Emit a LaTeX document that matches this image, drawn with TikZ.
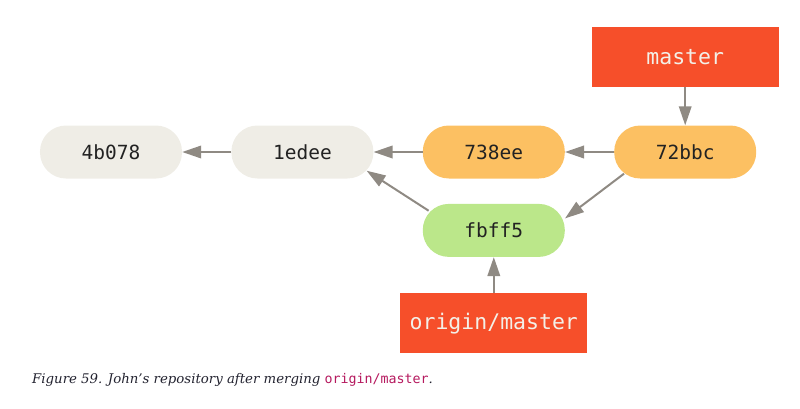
\documentclass[tikz,border=0pt]{standalone}
\usepackage{fontspec}
\setmainfont{DejaVu Serif}
\setmonofont{DejaVu Sans Mono}
\usepackage{xcolor}
\usetikzlibrary{arrows.meta,positioning}

\definecolor{oldgray}{HTML}{EFEDE6}
\definecolor{localorange}{HTML}{FCC062}
\definecolor{fetchgreen}{HTML}{BBE78A}
\definecolor{refred}{HTML}{F64F2A}
\definecolor{reftext}{HTML}{F3F0E8}
\definecolor{hashtext}{HTML}{222222}
\definecolor{linkgray}{HTML}{8F8A83}
\definecolor{captiontext}{HTML}{232330}
\definecolor{codetext}{HTML}{B5195E}

\begin{document}
\begin{tikzpicture}[
            >={Triangle[length=19pt,width=12.5pt]},
            x=1pt, y=1pt,
            node distance=49pt and 49pt,
            commit/.style={rounded corners=26pt, minimum width=142pt, minimum height=53pt,
                inner sep=0pt, text=hashtext, font=\ttfamily\fontsize{19.5}{19.5}\selectfont},
            branch/.style={fill=refred, minimum width=187pt, minimum height=60pt,
                inner sep=0pt, text=reftext, font=\ttfamily\fontsize{21.5}{21.5}\selectfont},
            link/.style={->, draw=linkgray, fill=linkgray, line width=2pt}
        ]
        \useasboundingbox (-111,-256) rectangle (689,152);
        \node[commit, fill=oldgray] (root) {4b078};
        \node[commit, fill=oldgray, right=of root] (base) {1edee};
        \node[commit, fill=localorange, right=of base] (johns) {738ee};
        \node[commit, fill=localorange, right=of johns] (merge) {72bbc};
        \node[commit, fill=fetchgreen, below=25pt of johns] (jessicas) {fbff5};
        \draw[link] (base) -- (root);
        \draw[link] (johns) -- (base);
        \draw[link] (merge) -- (johns);
        \draw[link] ([xshift=10pt,yshift=5pt]merge.south west) -- ([yshift=12pt]jessicas.east);
        \draw[link] ([xshift=6pt,yshift=-7pt]jessicas.north west) -- ([xshift=-7pt,yshift=8pt]base.south east);

        \node[branch, above=38pt of merge] (master) {master};
        \node[branch, below=36pt of jessicas] (originmaster) {origin/master};
        \draw[link] (master) -- (merge);
        \draw[link] (originmaster) -- (jessicas);

        \node[anchor=base west, inner sep=0pt, text=captiontext,
            font=\itshape\fontsize{13.3}{13.3}\selectfont] (caption) at (-79,-231)
            {Figure 59. John’s repository after merging {\upshape\ttfamily\color{codetext}origin/master}.};
    \end{tikzpicture}
\end{document}
